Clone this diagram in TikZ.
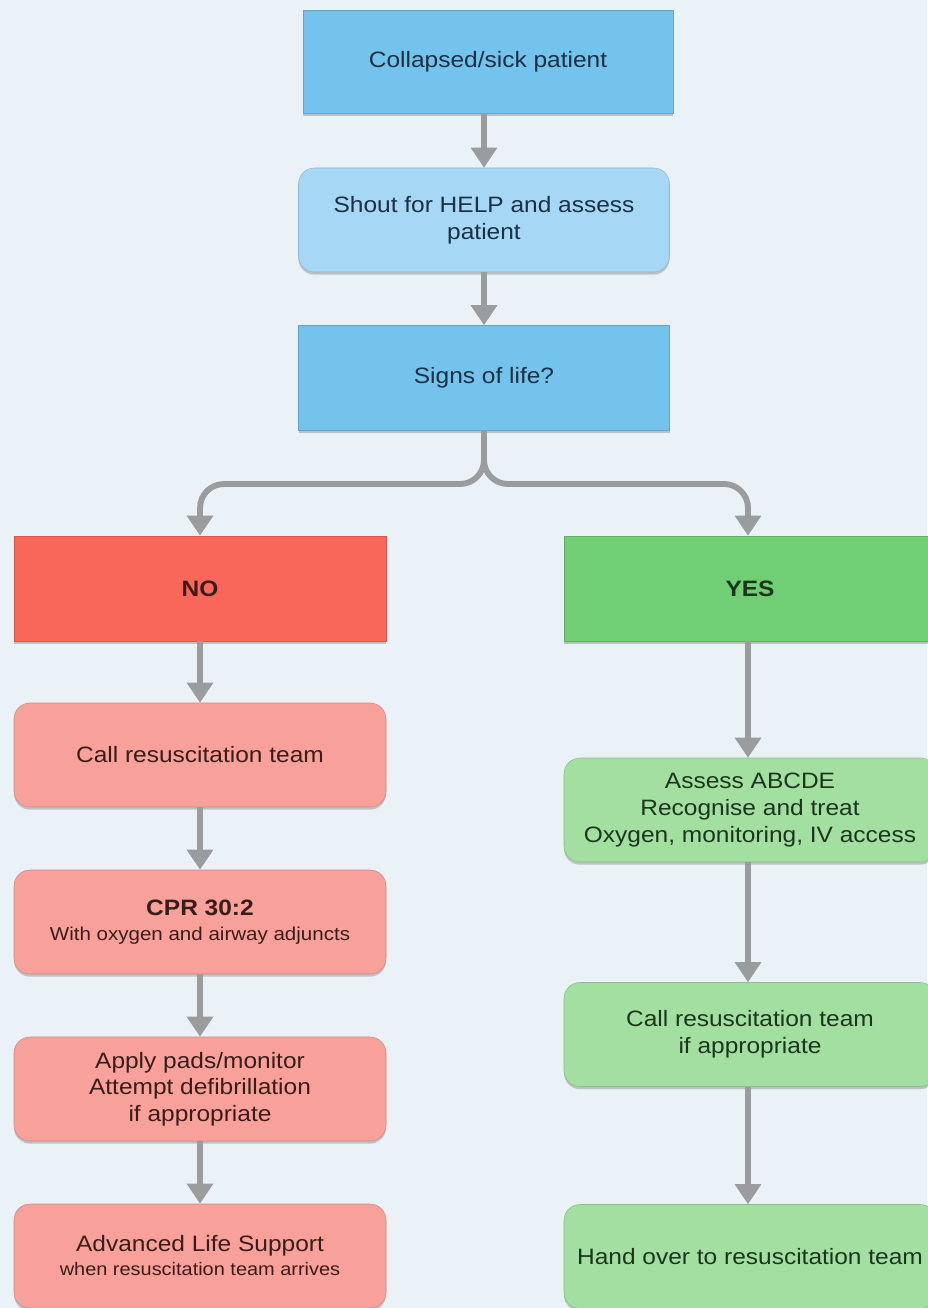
\documentclass[tikz,border=0pt]{standalone}
\usepackage{fontspec}
\setmainfont{Liberation Sans}[FakeStretch=1.1]
\usetikzlibrary{arrows.meta,shadows,positioning}
\definecolor{bgc}{HTML}{EBF2F7}
\definecolor{blueA}{HTML}{74C3EC}
\definecolor{blueB}{HTML}{A6D8F5}
\definecolor{redA}{HTML}{F9665A}
\definecolor{redB}{HTML}{F7A19A}
\definecolor{greenA}{HTML}{70CF74}
\definecolor{greenB}{HTML}{A3DFA1}
\definecolor{arrc}{HTML}{9B9C9E}
\definecolor{txtblue}{HTML}{1B2F45}
\definecolor{txtred}{HTML}{3A1D1A}
\definecolor{txtgreen}{HTML}{1C361D}
\tikzset{
  box/.style={minimum width=371*0.75pt, minimum height=104*0.75pt, align=center,
    inner sep=2pt, font=\fontsize{16.7}{20}\selectfont,
    drop shadow={shadow xshift=0pt, shadow yshift=-2pt, opacity=0.35, fill=black!60}},
  sqbox/.style={box, draw=#1!85!black, line width=0.4pt},
  rbox/.style={box, rounded corners=12pt, draw=#1!85!black, line width=0.4pt},
  arr/.style={draw=arrc, line width=4.4pt, -{Triangle[width=19pt,length=15pt]}},
}
\begin{document}
\begin{tikzpicture}[x=0.75pt,y=-0.75pt]
\fill[bgc] (0,0) rectangle (927,1308);
\useasboundingbox (0,0) rectangle (927,1308);

\node[sqbox=blueA, fill=blueA, text=txtblue, minimum width=370*0.75pt, minimum height=103*0.75pt] (n1) at (488,61.5) {Collapsed/sick patient};
\node[rbox=blueB, fill=blueB, text=txtblue] (n2) at (484,220) {Shout for HELP and assess\\patient};
\node[sqbox=blueA, fill=blueA, text=txtblue, minimum height=105*0.75pt] (n3) at (484,378) {Signs of life?};

\node[sqbox=redA, fill=redA, text=txtred, minimum width=372*0.75pt, minimum height=105*0.75pt] (no) at (200,588.5) {\textbf{NO}};
\node[sqbox=greenA, fill=greenA, text=txtgreen, minimum width=372*0.75pt, minimum height=105*0.75pt] (yes) at (750,588.5) {\textbf{YES}};

\node[rbox=redB, fill=redB, text=txtred, minimum width=372*0.75pt] (l1) at (200,755) {Call resuscitation team};
\node[rbox=redB, fill=redB, text=txtred, minimum width=372*0.75pt] (l2) at (200,922) {\textbf{CPR 30:2}\\[-1pt]{\fontsize{14}{16}\selectfont With oxygen and airway adjuncts}};
\node[rbox=redB, fill=redB, text=txtred, minimum width=372*0.75pt] (l3) at (200,1089) {Apply pads/monitor\\Attempt defibrillation\\if appropriate};
\node[rbox=redB, fill=redB, text=txtred, minimum width=372*0.75pt] (l4) at (200,1256) {Advanced Life Support\\[-2pt]{\fontsize{13.6}{15}\selectfont when resuscitation team arrives}};

\node[rbox=greenB, fill=greenB, text=txtgreen, minimum width=372*0.75pt] (r1) at (750,810) {Assess ABCDE\\Recognise and treat\\Oxygen, monitoring, IV access};
\node[rbox=greenB, fill=greenB, text=txtgreen, minimum width=372*0.75pt] (r2) at (750,1034.5) {Call resuscitation team\\if appropriate};
\node[rbox=greenB, fill=greenB, text=txtgreen, minimum width=372*0.75pt] (r3) at (750,1256.5) {Hand over to resuscitation team};

\coordinate (ax) at (748,0);
\coordinate (lx) at (200,0);

\draw[arr] (n1.south -| n2.north) -- (n2.north);
\draw[arr] (n2.south) -- (n3.north);
\draw[arr, rounded corners=18pt] (n3.south) |- (200,484) -- (no.north -| lx);
\draw[arr, rounded corners=18pt] (n3.south) |- (748,484) -- (yes.north -| ax);

\draw[arr] (no.south -| lx) -- (l1.north -| lx);
\draw[arr] (l1.south -| lx) -- (l2.north -| lx);
\draw[arr] (l2.south -| lx) -- (l3.north -| lx);
\draw[arr] (l3.south -| lx) -- (l4.north -| lx);

\draw[arr] (yes.south -| ax) -- (r1.north -| ax);
\draw[arr] (r1.south -| ax) -- (r2.north -| ax);
\draw[arr] (r2.south -| ax) -- (r3.north -| ax);
\end{tikzpicture}
\end{document}
